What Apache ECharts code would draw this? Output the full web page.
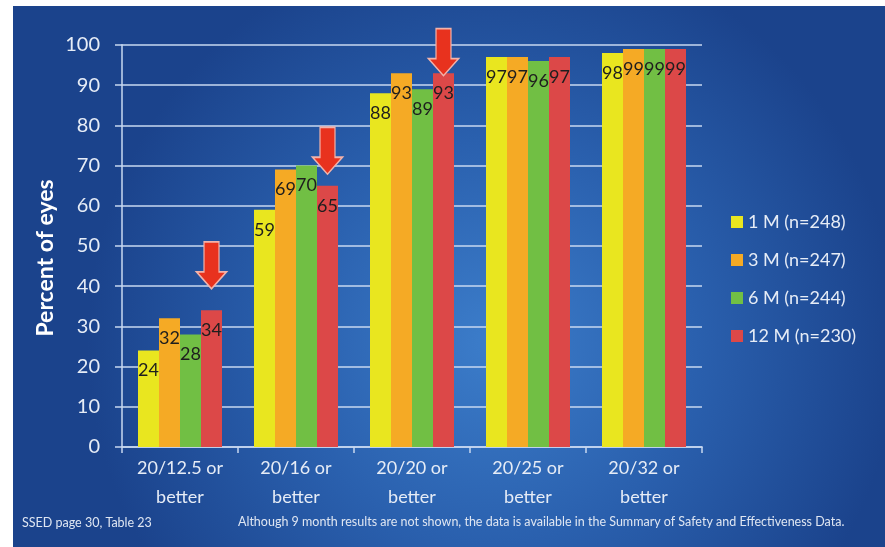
<!DOCTYPE html>
<html>
<head>
<meta charset="utf-8">
<script src="https://cdn.jsdelivr.net/npm/echarts@6/dist/echarts.min.js"></script>
<style>
  html, body { margin: 0; padding: 0; background: #fff; }
  #chart { position: absolute; left: 13px; top: 6px; width: 872px; height: 541px; }
</style>
</head>
<body>
<div id="chart"></div>
<script>
const categories = ["20/12.5 or\nbetter", "20/16 or\nbetter", "20/20 or\nbetter", "20/25 or\nbetter", "20/32 or\nbetter"];
const seriesNames = ["1 M (n=248)", "3 M (n=247)", "6 M (n=244)", "12 M (n=230)"];
const m1 = [24, 59, 88, 97, 98];
const m3 = [32, 69, 93, 97, 99];
const m6 = [28, 70, 89, 96, 99];
const m12 = [34, 65, 93, 97, 99];
const arrowAt = [0, 1, 2]; // categories flagged with a red arrow over 12 M
const yTicks = [0, 10, 20, 30, 40, 50, 60, 70, 80, 90, 100];

const colors = ["#e9e61f", "#f5aa25", "#71bf44", "#dc4848"];
const fontFamily = "Lato, 'Open Sans', sans-serif";
const gridColor = "rgba(200, 216, 240, 0.75)";
const arrowPath = "path://M7.5,0 H22.5 V30 H30 L15,47 L0,30 H7.5 Z";
const arrowOffsets = [-45, -35, -21];

const chart = echarts.init(document.getElementById("chart"));

function barSeries(name, data, i) {
  const s = {
    name: name,
    type: "bar",
    data: data,
    barWidth: 21,
    barGap: "0%",
    itemStyle: { color: colors[i] },
    label: {
      show: true,
      position: "insideTop",
      distance: 11,
      color: "#1e1e1e",
      fontFamily: fontFamily,
      fontSize: 18,
    },
  };
  if (i === 3) {
    s.markPoint = {
      symbol: arrowPath,
      symbolSize: [30, 47],
      itemStyle: { color: "#e8321e", borderColor: "#f2b3aa", borderWidth: 1.5 },
      label: { show: false },
      data: arrowAt.map((c, k) => ({
        coord: [c, data[c]],
        symbolOffset: [0, arrowOffsets[k]],
      })),
    };
  }
  return s;
}

chart.setOption({
  backgroundColor: {
    type: "radial",
    x: 0.55,
    y: 0.62,
    r: 0.75,
    colorStops: [
      { offset: 0, color: "#3c7dca" },
      { offset: 0.5, color: "#2a60ae" },
      { offset: 1, color: "#1b438c" },
    ],
  },
  animation: false,
  grid: { left: 109, top: 39, width: 580, height: 402 },
  legend: {
    orient: "vertical",
    left: 713,
    top: 201,
    itemWidth: 12,
    itemHeight: 12,
    itemGap: 18,
    icon: "rect",
    textStyle: { color: "#e6ecf6", fontFamily: fontFamily, fontSize: 18, lineHeight: 20 },
    data: seriesNames,
  },
  xAxis: {
    type: "category",
    data: categories,
    axisLine: { lineStyle: { color: gridColor, width: 2 } },
    axisTick: { show: true, length: 6, lineStyle: { color: gridColor, width: 2 } },
    axisLabel: {
      color: "#e6ecf6",
      fontFamily: fontFamily,
      fontSize: 18,
      lineHeight: 29,
      margin: 7,
    },
  },
  yAxis: {
    type: "value",
    min: yTicks[0],
    max: yTicks[yTicks.length - 1],
    interval: yTicks[1] - yTicks[0],
    axisLine: { show: true, lineStyle: { color: gridColor, width: 2 } },
    axisTick: { show: true, length: 7, lineStyle: { color: gridColor, width: 2 } },
    splitLine: { lineStyle: { color: gridColor, width: 2 } },
    axisLabel: { color: "#e6ecf6", fontFamily: fontFamily, fontSize: 20, margin: 22 },
  },
  graphic: [
    {
      type: "text",
      x: 33,
      y: 252,
      rotation: Math.PI / 2,
      style: {
        text: "Percent of eyes",
        fill: "#ffffff",
        font: "bold 23px " + fontFamily,
        align: "center",
        verticalAlign: "middle",
      },
    },
    {
      type: "text",
      left: 9,
      top: 510,
      style: { text: "SSED page 30, Table 23", fill: "#dfe6f2", font: "12.5px " + fontFamily },
    },
    {
      type: "text",
      left: 225,
      top: 509,
      style: {
        text: "Although 9 month results are not shown, the data is available in the Summary of Safety and Effectiveness Data.",
        fill: "#dfe6f2",
        font: "12.5px " + fontFamily,
      },
    },
  ],
  series: [
    barSeries(seriesNames[0], m1, 0),
    barSeries(seriesNames[1], m3, 1),
    barSeries(seriesNames[2], m6, 2),
    barSeries(seriesNames[3], m12, 3),
  ],
});
</script>
</body>
</html>
